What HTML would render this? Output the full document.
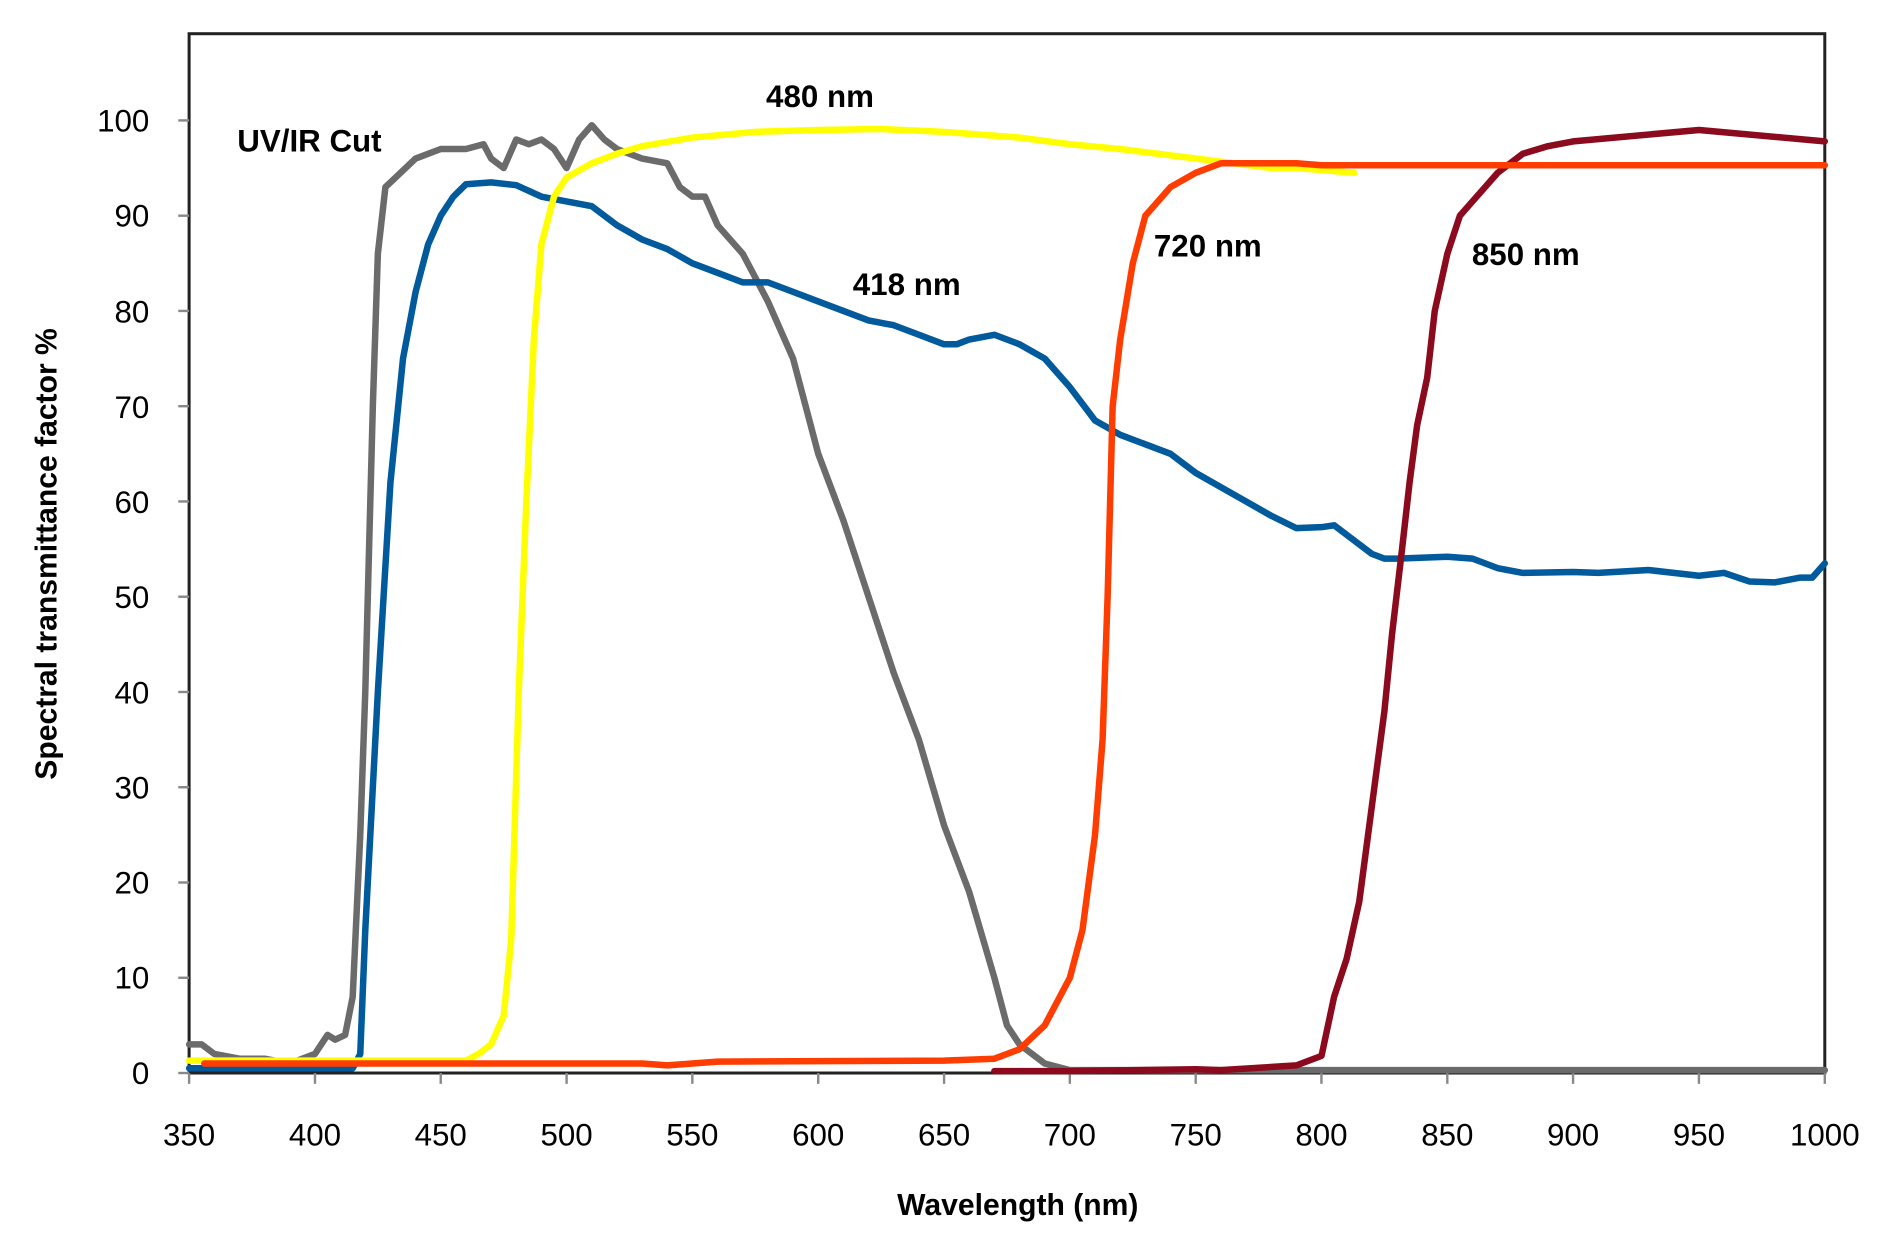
<!DOCTYPE html>
<html><head><meta charset="utf-8"><style>
html,body{margin:0;padding:0;background:#fff;}
svg{display:block;}
text{font-family:"Liberation Sans",sans-serif;fill:#000;}
</style></head><body>
<svg width="1879" height="1238" viewBox="0 0 1560 1028" preserveAspectRatio="none" xmlns="http://www.w3.org/2000/svg">
<rect width="1560" height="1028" fill="#fff"/>
<rect x="157" y="28" width="1358" height="863" fill="none" stroke="#222" stroke-width="2.5"/>
<g stroke="#888" stroke-width="2">
<line x1="148" y1="891" x2="157" y2="891"/><line x1="148" y1="811.9" x2="157" y2="811.9"/><line x1="148" y1="732.8" x2="157" y2="732.8"/><line x1="148" y1="653.7" x2="157" y2="653.7"/><line x1="148" y1="574.6" x2="157" y2="574.6"/><line x1="148" y1="495.5" x2="157" y2="495.5"/><line x1="148" y1="416.4" x2="157" y2="416.4"/><line x1="148" y1="337.3" x2="157" y2="337.3"/><line x1="148" y1="258.2" x2="157" y2="258.2"/><line x1="148" y1="179.1" x2="157" y2="179.1"/><line x1="148" y1="100" x2="157" y2="100"/>
<line x1="157" y1="891" x2="157" y2="900"/><line x1="261.5" y1="891" x2="261.5" y2="900"/><line x1="365.9" y1="891" x2="365.9" y2="900"/><line x1="470.4" y1="891" x2="470.4" y2="900"/><line x1="574.8" y1="891" x2="574.8" y2="900"/><line x1="679.3" y1="891" x2="679.3" y2="900"/><line x1="783.8" y1="891" x2="783.8" y2="900"/><line x1="888.2" y1="891" x2="888.2" y2="900"/><line x1="992.7" y1="891" x2="992.7" y2="900"/><line x1="1097.1" y1="891" x2="1097.1" y2="900"/><line x1="1201.6" y1="891" x2="1201.6" y2="900"/><line x1="1306" y1="891" x2="1306" y2="900"/><line x1="1410.5" y1="891" x2="1410.5" y2="900"/><line x1="1515" y1="891" x2="1515" y2="900"/>
</g>
<g font-size="26" text-anchor="end">
<text x="124" y="900">0</text><text x="124" y="821">10</text><text x="124" y="742">20</text><text x="124" y="663">30</text><text x="124" y="584">40</text><text x="124" y="505">50</text><text x="124" y="426">60</text><text x="124" y="347">70</text><text x="124" y="268">80</text><text x="124" y="188">90</text><text x="124" y="109">100</text>
</g>
<g font-size="26" text-anchor="middle">
<text x="157" y="951">350</text><text x="261.5" y="951">400</text><text x="365.9" y="951">450</text><text x="470.4" y="951">500</text><text x="574.8" y="951">550</text><text x="679.3" y="951">600</text><text x="783.8" y="951">650</text><text x="888.2" y="951">700</text><text x="992.7" y="951">750</text><text x="1097.1" y="951">800</text><text x="1201.6" y="951">850</text><text x="1306" y="951">900</text><text x="1410.5" y="951">950</text><text x="1515" y="951">1000</text>
</g>
<text x="845" y="1009" font-size="25" font-weight="bold" text-anchor="middle">Wavelength (nm)</text>
<text transform="translate(47,460) rotate(-90)" font-size="25" font-weight="bold" text-anchor="middle">Spectral transmittance factor %</text>
<g fill="none" stroke-width="6.5" stroke-linejoin="round" stroke-linecap="round" transform="translate(-574.2,891) scale(2.0892,-7.91)">
<polyline vector-effect="non-scaling-stroke" stroke="#6b6b6b" points="350,3 355,3 360,2 370,1.5 380,1.5 390,1 395,1.5 400,2 405,4 408,3.5 412,4 415,8 418,25 420,40 423,70 425,86 428,93 432,94 440,96 450,97 460,97 467,97.5 470,96 475,95 480,98 485,97.5 490,98 495,97 500,95 505,98 510,99.5 515,98 520,97 530,96 540,95.5 545,93 550,92 555,92 560,89 570,86 580,81 590,75 600,65 610,58 620,50 630,42 640,35 650,26 660,19 670,10 675,5 680,3 690,1 700,0.3 750,0.3 1000,0.3"/>
<polyline vector-effect="non-scaling-stroke" stroke="#005a9c" points="350,0.5 415,0.5 418,2 420,15 425,40 430,62 435,75 440,82 445,87 450,90 455,92 460,93.3 470,93.5 480,93.2 490,92 500,91.5 510,91 520,89 530,87.5 540,86.5 550,85 560,84 570,83 580,83 590,82 600,81 610,80 620,79 630,78.5 640,77.5 650,76.5 655,76.5 660,77 670,77.5 680,76.5 690,75 700,72 710,68.5 720,67 730,66 740,65 750,63 760,61.5 770,60 780,58.5 790,57.2 800,57.3 805,57.5 810,56.5 820,54.5 825,54 830,54 850,54.2 860,54 870,53 880,52.5 900,52.6 910,52.5 930,52.8 950,52.2 960,52.5 970,51.6 980,51.5 990,52 995,52 1000,53.5"/>
<polyline vector-effect="non-scaling-stroke" stroke="#ffff00" points="350,1.3 460,1.3 465,2 470,3 475,6 478,14 481,40 484,60 487,77 490,87 495,92 500,94 510,95.5 520,96.5 530,97.3 550,98.2 575,98.8 600,99 625,99.1 650,98.8 680,98.2 700,97.5 720,97 750,96 780,95 790,95 800,94.8 813,94.5"/>
<polyline vector-effect="non-scaling-stroke" stroke="#8b0a1e" points="670,0.2 700,0.2 750,0.4 760,0.3 790,0.8 800,1.8 805,8 810,12 815,18 820,28 825,38 828,46 832,55 835,62 838,68 842,73 845,80 850,86 855,90 860,91.5 865,93 870,94.5 880,96.5 890,97.3 900,97.8 950,99 1000,97.8"/>
<polyline vector-effect="non-scaling-stroke" stroke="#ff3d00" points="356,1 530,1 540,0.8 550,1 560,1.2 650,1.3 670,1.5 680,2.5 690,5 700,10 705,15 710,25 713,35 715,50 717,70 720,77 725,85 730,90 740,93 750,94.5 755,95 760,95.5 780,95.5 790,95.5 800,95.3 1000,95.3"/>
</g>
<g font-size="26" font-weight="bold">
<text x="197" y="126">UV/IR Cut</text>
<text x="636" y="89">480 nm</text>
<text x="708" y="245">418 nm</text>
<text x="958" y="213">720 nm</text>
<text x="1222" y="220">850 nm</text>
</g>
</svg>
</body></html>
